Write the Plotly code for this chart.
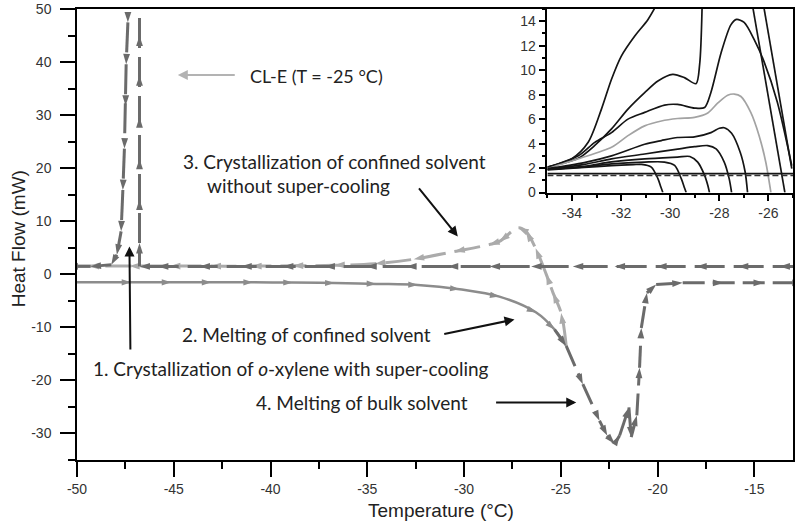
"""DSC heat-flow chart for o-xylene in CL-E, with a zoomed inset of the crystallisation onset."""

import plotly.graph_objects as go

# ── main DSC curves (Temperature °C, Heat Flow mW), listed in travel order ──

cool_bulk_t = [
    -12.5, -13.7, -15.85, -18.0, -20.07, -22.22, -24.38, -26.53, -28.68,
    -30.84, -32.99, -35.05, -37.21, -39.36, -41.51, -43.67, -45.82,
    -46.77, -46.77, -46.77, -46.77, -46.77, -46.77, -46.77, -46.77,
    -47.37, -47.37, -47.46, -47.49, -47.55, -47.63, -47.72, -47.94, -48.23,
    -49.3, -50.5,
]
cool_bulk_hf = [
    1.5, 1.5, 1.5, 1.5, 1.5, 1.5, 1.5, 1.5, 1.5,
    1.5, 1.5, 1.5, 1.5, 1.5, 1.5, 1.5, 1.5,
    1.5, 5.9, 14.1, 21.8, 29.6, 37.5, 45.0, 56.0,
    56.0, 47.5, 39.6, 31.8, 23.7, 15.9, 8.1, 3.7, 1.8,
    1.5, 1.5,
]

heat_confined_t = [
    -50.5, -47.2, -45.13, -43.06, -40.91, -38.85, -36.69, -34.54, -32.39,
    -30.23, -28.17, -26.27, -25.32, -24.72,
]
heat_confined_hf = [
    -1.5, -1.5, -1.5, -1.5, -1.5, -1.55, -1.65, -1.8, -2.0,
    -2.8, -4.2, -7.2, -10.4, -13.5,
]

heat_bulk_t = [
    -25.32, -24.72, -23.86, -23.0, -22.6, -22.22, -21.96, -21.48, -21.36,
    -21.07, -20.93, -20.84, -20.55, -20.07, -18.7, -16.6, -14.5, -12.5,
]
heat_bulk_hf = [
    -10.4, -13.5, -20.7, -27.6, -30.4, -31.95, -30.4, -25.1, -30.7,
    -26.6, -17.6, -10.1, -3.5, -1.93, -1.6, -1.6, -1.6, -1.6,
]

cle_t = [
    -24.72, -24.98, -25.4, -25.75, -26.3, -26.8, -27.2, -28.17, -28.7,
    -30.5, -32.6, -34.6, -36.7, -38.85, -41.0, -43.1, -45.2, -47.3, -49.4, -50.5,
]
cle_hf = [
    -13.5, -7.3, -3.5, 0.0, 4.9, 8.1, 8.8, 6.2, 5.6,
    4.3, 2.85, 2.0, 1.7, 1.6, 1.55, 1.55, 1.55, 1.55, 1.55, 1.55,
]

# tick labels (the original uses plain hyphens)
main_t_ticks = [-50, -45, -40, -35, -30, -25, -20, -15]
main_t_labels = ["-50", "-45", "-40", "-35", "-30", "-25", "-20", "-15"]
main_hf_ticks = [-30, -20, -10, 0, 10, 20, 30, 40, 50]
main_hf_labels = ["-30", "-20", "-10", "0", "10", "20", "30", "40", "50"]
inset_t_ticks = [-34, -32, -30, -28, -26]
inset_t_labels = ["-34", "-32", "-30", "-28", "-26"]

# ── inset: cooling curves at different rates (Temperature °C, Heat Flow mW) ──

inset_curves = [
    # (temperatures, heat flows, colour)
    ([-35, -34.01, -33.34, -32.8, -32.39, -31.99, -31.45, -30.91, -30.57],
     [2.08, 2.76, 4.11, 6.82, 9.26, 11.15, 12.77, 14.13, 15.3], "#151515"),
    ([-35, -33.74, -33.07, -32.39, -31.72, -31.04, -30.5, -29.9, -29.42, -28.95, -28.8, -28.7],
     [2.08, 2.8, 3.85, 5.2, 6.82, 8.17, 9.12, 9.66, 9.39, 8.9, 10.5, 15.3], "#151515"),
    ([-35, -33.74, -33.07, -32.39, -31.72, -31.04, -30.23, -29.7, -29.0, -28.6, -28.34,
      -27.93, -27.53, -27.3, -26.99, -26.58, -26.18, -25.64, -25.05],
     [2.05, 3.0, 4.1, 4.9, 6.0, 6.55, 7.15, 7.2, 6.9, 6.95, 8.2,
      11.4, 13.7, 14.15, 13.9, 12.5, 10.7, 7.4, 2.2], "#151515"),
    ([-35, -33.74, -32.39, -31.72, -31.04, -30.36, -29.7, -29.01, -28.47, -28.07,
      -27.66, -27.39, -27.12, -26.72, -26.38, -26.11, -25.9],
     [1.95, 2.76, 3.7, 4.65, 5.45, 5.85, 6.05, 6.15, 6.5, 7.3,
      7.95, 8.05, 7.85, 6.55, 4.65, 2.5, 0.0], "#a3a3a3"),
    ([-35, -33.5, -32.39, -31.04, -30.36, -29.7, -29.01, -28.34, -28.0, -27.8, -27.5,
      -27.15, -26.95, -26.85],
     [1.95, 2.45, 3.0, 3.95, 4.25, 4.5, 4.55, 4.9, 5.25, 5.3, 4.85,
      3.3, 1.7, 0.0], "#151515"),
    ([-35, -33.5, -32.39, -31.04, -29.7, -29.01, -28.47, -28.13, -27.8, -27.6, -27.5],
     [1.9, 2.3, 2.75, 3.15, 3.55, 3.75, 3.84, 3.57, 2.49, 1.14, 0.0], "#151515"),
    ([-35, -33.5, -32.39, -31.04, -29.7, -29.2, -28.88, -28.6, -28.47, -28.4],
     [1.9, 2.15, 2.5, 2.75, 2.9, 2.95, 2.49, 1.41, 0.6, 0.0], "#151515"),
    ([-35, -33.5, -32.39, -31.04, -30.23, -29.82, -29.55, -29.42, -29.35],
     [1.9, 2.1, 2.35, 2.49, 2.49, 2.22, 1.14, 0.4, 0.0], "#151515"),
    ([-35, -33.5, -32.39, -31.5, -31.17, -30.77, -30.5, -30.38, -30.3],
     [1.85, 2.05, 2.2, 2.28, 2.3, 2.08, 1.14, 0.45, 0.0], "#151515"),
    ([-26.65, -25.33], [15.3, 0.0], "#151515"),
    ([-26.2, -25.05], [15.3, 1.95], "#151515"),
    ([-35, -25], [1.55, 1.55], "#151515"),
]

DARK = "#6b6b6b"
MID = "#8c8c8c"
LIGHT = "#ababab"
TEXT_FONT = "Lato, Open Sans, sans-serif"
AXIS_FONT = "Liberation Sans, Arial, sans-serif"


def arrow_trace(t, hf, color, width, dash, size, shape="linear"):
    """Dashed DSC curve with arrowheads showing the scan direction."""
    return go.Scatter(
        x=t, y=hf, mode="lines+markers",
        line=dict(color=color, width=width, dash=dash, shape=shape),
        marker=dict(symbol="arrow", angleref="previous", size=size, color=color),
        hoverinfo="skip", showlegend=False,
    )


fig = go.Figure()
fig.add_trace(arrow_trace(heat_confined_t, heat_confined_hf, MID, 2.5, "solid", 10, "spline"))
fig.add_trace(arrow_trace(cle_t, cle_hf, LIGHT, 3, "26px,9px", 11, "spline"))
fig.add_trace(arrow_trace(cool_bulk_t, cool_bulk_hf, DARK, 3, "30px,9px", 11))
fig.add_trace(arrow_trace(heat_bulk_t, heat_bulk_hf, DARK, 3, "22px,8px", 11))

for t, hf, color in inset_curves:
    fig.add_trace(go.Scatter(
        x=t, y=hf, mode="lines", xaxis="x2", yaxis="y2",
        line=dict(color=color, width=1.7, shape="spline", smoothing=0.8),
        hoverinfo="skip", showlegend=False,
    ))
fig.add_trace(go.Scatter(
    x=[-35, -25], y=[1.4, 1.4], mode="lines", xaxis="x2", yaxis="y2",
    line=dict(color="#333", width=1.5, dash="6px,3px"),
    hoverinfo="skip", showlegend=False,
))

axis_common = dict(
    showgrid=False, zeroline=False, showline=True, linecolor="black", linewidth=1.5,
    ticks="outside", tickcolor="black", tickwidth=1.5, ticklabeloverflow="allow",
    tickfont=dict(family=AXIS_FONT, size=14, color="#333"),
)

fig.update_layout(
    width=796, height=524,
    margin=dict(l=77, r=1, t=6, b=64),
    plot_bgcolor="white", paper_bgcolor="white",
    xaxis=dict(
        **axis_common, range=[-50, -13], tickvals=main_t_ticks, ticktext=main_t_labels,
        ticklen=15, mirror=True,
        minor=dict(dtick=2.5, tick0=-50, ticklen=7, ticks="outside", tickcolor="black", tickwidth=1.5),
    ),
    yaxis=dict(
        **axis_common, range=[-35, 50.02], tickvals=main_hf_ticks, ticktext=main_hf_labels,
        ticklen=15, mirror=True, ticklabelstandoff=6,
        minor=dict(dtick=5, tick0=0, ticklen=7, ticks="outside", tickcolor="black", tickwidth=1.5),
    ),
    xaxis2=dict(
        **axis_common, domain=[0.657, 1], anchor="y2", range=[-35, -25],
        tickvals=inset_t_ticks, ticktext=inset_t_labels, ticklen=7,
        minor=dict(dtick=1, tick0=-35, ticklen=4, ticks="outside", tickcolor="black", tickwidth=1.5),
    ),
    yaxis2=dict(
        **axis_common, domain=[0.593, 1], anchor="x2", range=[0, 15],
        tick0=0, dtick=2, ticklen=7,
        minor=dict(dtick=1, ticklen=4, ticks="outside", tickcolor="black", tickwidth=1.5),
    ),
)

# axis titles
fig.add_annotation(
    text="Temperature (°C)", xref="paper", yref="paper", x=0.508, y=-0.112,
    xanchor="center", yanchor="middle", showarrow=False,
    font=dict(family=AXIS_FONT, size=19, color="#222"),
)
fig.add_annotation(
    text="Heat Flow (mW)", xref="paper", yref="paper", x=-0.082, y=0.49,
    xanchor="center", yanchor="middle", textangle=-90, showarrow=False,
    font=dict(family=AXIS_FONT, size=19, color="#222"),
)

# labels on the main plot
labels = [
    ("CL-E (T = -25 °C)", -41.17, 37.3, "left", 18),
    ("3. Crystallization of confined solvent", -44.65, 21.2, "left", 19),
    ("without super-cooling", -43.41, 16.7, "left", 19),
    ("2. Melting of confined solvent", -38.15, -11.26, "center", 19),
    ("1. Crystallization of <i>o</i>-xylene with super-cooling", -38.94, -17.8, "center", 19),
    ("4. Melting of bulk solvent", -35.25, -24.15, "center", 19),
]
for text, t, hf, anchor, size in labels:
    fig.add_annotation(
        text=text, x=t, y=hf, xanchor=anchor, showarrow=False,
        font=dict(family=TEXT_FONT, size=size, color="#222"),
    )

# pointer arrows: (tail_t, tail_hf, head_t, head_hf, colour)
pointers = [
    (-41.77, 37.6, -44.79, 37.6, "#b3b3b3"),
    (-32.39, 16.5, -30.32, 7.13, "#111"),
    (-31.1, -11.3, -27.39, -8.5, "#111"),
    (-47.24, -14.45, -47.29, 5.25, "#111"),
    (-28.42, -24.15, -24.2, -24.15, "#111"),
]
for t0, hf0, t1, hf1, color in pointers:
    fig.add_annotation(
        x=t1, y=hf1, ax=t0, ay=hf0, axref="x", ayref="y", text="",
        showarrow=True, arrowhead=2, arrowsize=1, arrowwidth=2, arrowcolor=color,
    )

# the page's default body margin would shift the 796x524 figure by 8 px
fig.write_html(
    "out.html",
    config={"displayModeBar": False},
    post_script="document.body.style.margin = '0';",
)
